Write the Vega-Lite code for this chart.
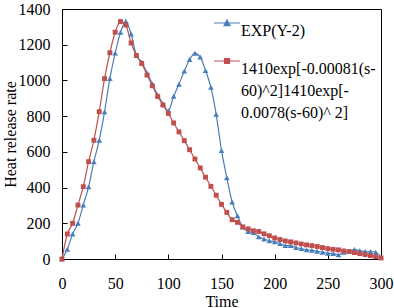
{
  "$schema": "https://vega.github.io/schema/vega-lite/v6.json",
  "width": 319,
  "height": 250,
  "autosize": "none",
  "padding": {"left": 62, "top": 9, "right": 13, "bottom": 49},
  "config": {
    "view": {"stroke": "#000000", "strokeWidth": 1},
    "font": "Liberation Serif",
    "style": {"guide-label": {"font": "Liberation Serif", "fontSize": 16, "fill": "#000"}, "guide-title": {"font": "Liberation Serif", "fontSize": 16, "fill": "#000", "fontWeight": "normal"}},
    "axis": {"labelFont": "Liberation Serif", "titleFont": "Liberation Serif", "labelFontSize": 16, "titleFontSize": 16, "labelColor": "#000", "titleColor": "#000", "titleFontWeight": "normal", "domainColor": "#000", "tickColor": "#000", "grid": false, "tickSize": -5, "labelPadding": 17, "labelFlush": false, "labelOverlap": false, "format": "d"},
    "legend": {"labelFont": "Liberation Serif", "labelFontSize": 16, "labelColor": "#000"}
  },
  "data": {"values": [
    {"s":0,"v":0,"series":"EXP(Y-2)"},{"s":5,"v":55,"series":"EXP(Y-2)"},{"s":10,"v":140,"series":"EXP(Y-2)"},{"s":15,"v":200,"series":"EXP(Y-2)"},{"s":20,"v":302,"series":"EXP(Y-2)"},{"s":25,"v":404,"series":"EXP(Y-2)"},{"s":30,"v":545,"series":"EXP(Y-2)"},{"s":35,"v":665,"series":"EXP(Y-2)"},{"s":40,"v":824,"series":"EXP(Y-2)"},{"s":45,"v":1010,"series":"EXP(Y-2)"},{"s":50,"v":1153,"series":"EXP(Y-2)"},{"s":55,"v":1269,"series":"EXP(Y-2)"},{"s":60,"v":1331,"series":"EXP(Y-2)"},{"s":65,"v":1260,"series":"EXP(Y-2)"},{"s":70,"v":1140,"series":"EXP(Y-2)"},{"s":75,"v":1102,"series":"EXP(Y-2)"},{"s":80,"v":1042,"series":"EXP(Y-2)"},{"s":85,"v":980,"series":"EXP(Y-2)"},{"s":90,"v":918,"series":"EXP(Y-2)"},{"s":95,"v":870,"series":"EXP(Y-2)"},{"s":100,"v":830,"series":"EXP(Y-2)"},{"s":105,"v":911,"series":"EXP(Y-2)"},{"s":110,"v":979,"series":"EXP(Y-2)"},{"s":115,"v":1052,"series":"EXP(Y-2)"},{"s":120,"v":1117,"series":"EXP(Y-2)"},{"s":125,"v":1152,"series":"EXP(Y-2)"},{"s":130,"v":1131,"series":"EXP(Y-2)"},{"s":135,"v":1055,"series":"EXP(Y-2)"},{"s":140,"v":962,"series":"EXP(Y-2)"},{"s":145,"v":810,"series":"EXP(Y-2)"},{"s":150,"v":608,"series":"EXP(Y-2)"},{"s":155,"v":455,"series":"EXP(Y-2)"},{"s":160,"v":319,"series":"EXP(Y-2)"},{"s":165,"v":242,"series":"EXP(Y-2)"},{"s":170,"v":179,"series":"EXP(Y-2)"},{"s":175,"v":154,"series":"EXP(Y-2)"},{"s":180,"v":148,"series":"EXP(Y-2)"},{"s":185,"v":124,"series":"EXP(Y-2)"},{"s":190,"v":112,"series":"EXP(Y-2)"},{"s":195,"v":102,"series":"EXP(Y-2)"},{"s":200,"v":96,"series":"EXP(Y-2)"},{"s":205,"v":86,"series":"EXP(Y-2)"},{"s":210,"v":75,"series":"EXP(Y-2)"},{"s":215,"v":75,"series":"EXP(Y-2)"},{"s":220,"v":64,"series":"EXP(Y-2)"},{"s":225,"v":58,"series":"EXP(Y-2)"},{"s":230,"v":51,"series":"EXP(Y-2)"},{"s":235,"v":49,"series":"EXP(Y-2)"},{"s":240,"v":43,"series":"EXP(Y-2)"},{"s":245,"v":38,"series":"EXP(Y-2)"},{"s":250,"v":32,"series":"EXP(Y-2)"},{"s":255,"v":30,"series":"EXP(Y-2)"},{"s":260,"v":24,"series":"EXP(Y-2)"},{"s":265,"v":38,"series":"EXP(Y-2)"},{"s":270,"v":42,"series":"EXP(Y-2)"},{"s":275,"v":53,"series":"EXP(Y-2)"},{"s":280,"v":47,"series":"EXP(Y-2)"},{"s":285,"v":42,"series":"EXP(Y-2)"},{"s":290,"v":42,"series":"EXP(Y-2)"},{"s":295,"v":38,"series":"EXP(Y-2)"},{"s":300,"v":10,"series":"EXP(Y-2)"},
    {"s":0,"v":0,"series":"G"},{"s":5,"v":140,"series":"G"},{"s":10,"v":200,"series":"G"},{"s":15,"v":302,"series":"G"},{"s":20,"v":405,"series":"G"},{"s":25,"v":545,"series":"G"},{"s":30,"v":665,"series":"G"},{"s":35,"v":825,"series":"G"},{"s":40,"v":1010,"series":"G"},{"s":45,"v":1155,"series":"G"},{"s":50,"v":1270,"series":"G"},{"s":55,"v":1330,"series":"G"},{"s":60,"v":1310,"series":"G"},{"s":65,"v":1210,"series":"G"},{"s":70,"v":1140,"series":"G"},{"s":75,"v":1095,"series":"G"},{"s":80,"v":1030,"series":"G"},{"s":85,"v":970,"series":"G"},{"s":90,"v":910,"series":"G"},{"s":95,"v":862,"series":"G"},{"s":100,"v":815,"series":"G"},{"s":105,"v":762,"series":"G"},{"s":110,"v":712,"series":"G"},{"s":115,"v":663,"series":"G"},{"s":120,"v":612,"series":"G"},{"s":125,"v":560,"series":"G"},{"s":130,"v":510,"series":"G"},{"s":135,"v":458,"series":"G"},{"s":140,"v":407,"series":"G"},{"s":145,"v":357,"series":"G"},{"s":150,"v":306,"series":"G"},{"s":155,"v":261,"series":"G"},{"s":160,"v":220,"series":"G"},{"s":165,"v":205,"series":"G"},{"s":170,"v":180,"series":"G"},{"s":175,"v":169,"series":"G"},{"s":180,"v":158,"series":"G"},{"s":185,"v":154,"series":"G"},{"s":190,"v":141,"series":"G"},{"s":195,"v":130,"series":"G"},{"s":200,"v":118,"series":"G"},{"s":205,"v":109,"series":"G"},{"s":210,"v":101,"series":"G"},{"s":215,"v":96,"series":"G"},{"s":220,"v":90,"series":"G"},{"s":225,"v":84,"series":"G"},{"s":230,"v":79,"series":"G"},{"s":235,"v":75,"series":"G"},{"s":240,"v":70,"series":"G"},{"s":245,"v":64,"series":"G"},{"s":250,"v":58,"series":"G"},{"s":255,"v":54,"series":"G"},{"s":260,"v":51,"series":"G"},{"s":265,"v":45,"series":"G"},{"s":270,"v":42,"series":"G"},{"s":275,"v":36,"series":"G"},{"s":280,"v":30,"series":"G"},{"s":285,"v":25,"series":"G"},{"s":290,"v":19,"series":"G"},{"s":295,"v":13,"series":"G"},{"s":300,"v":6,"series":"G"}
  ]},
  "encoding": {
    "x": {"field": "s", "type": "quantitative", "title": "Time", "scale": {"domain": [0, 300], "nice": false}, "axis": {"values": [0, 50, 100, 150, 200, 250, 300], "labelPadding": 21, "titlePadding": 2, "labelFont": "Liberation Serif", "labelFontSize": 16}},
    "y": {"field": "v", "type": "quantitative", "title": "Heat release rate", "scale": {"domain": [0, 1400], "nice": false}, "axis": {"values": [0, 200, 400, 600, 800, 1000, 1200, 1400], "titlePadding": 0, "labelFont": "Liberation Serif", "labelFontSize": 16}},
    "color": {"field": "series", "type": "nominal", "scale": {"domain": ["EXP(Y-2)", "G"], "range": ["#4A7EBB", "#C0504D"]},
      "legend": {"title": null, "orient": "none", "legendX": 151, "legendY": 0, "padding": 0, "labelFont": "Liberation Serif", "labelFontSize": 16, "labelColor": "#000", "labelLimit": 0, "symbolSize": 676, "rowPadding": 8, "labelOffset": 0, "labelBaseline": "top",
        "labelExpr": "datum.label == 'EXP(Y-2)' ? datum.label : ['1410exp[-0.00081(s-', '60)^2]1410exp[-', '0.0078(s-60)^ 2]']",
        "encode": {
          "labels": {"update": {"font": {"value": "Liberation Serif"}, "fontSize": {"value": 16}, "lineHeight": {"value": 22}}},
          "symbols": {"update": {
          "shape": {"signal": "datum.value == 'EXP(Y-2)' ? 'M-1,0L1,0M-0.23,0.2L0.23,0.2L0,-0.23Z' : 'M-1,0L1,0M-0.19,-0.19L0.19,-0.19L0.19,0.19L-0.19,0.19Z'"},
          "fill": {"scale": "color", "field": "value"},
          "stroke": {"scale": "color", "field": "value"},
          "strokeWidth": {"value": 1.2},
          "opacity": {"value": 1}
        }}}
      }
    }
  },
  "layer": [
    {"mark": {"type": "line", "interpolate": "monotone", "strokeWidth": 1.2}},
    {"transform": [{"filter": "datum.series == 'EXP(Y-2)'"}],
     "mark": {"type": "point", "filled": true, "opacity": 1, "size": 32, "shape": "triangle-up"}},
    {"transform": [{"filter": "datum.series == 'G'"}],
     "mark": {"type": "point", "filled": true, "opacity": 1, "size": 24, "shape": "square"}}
  ]
}
